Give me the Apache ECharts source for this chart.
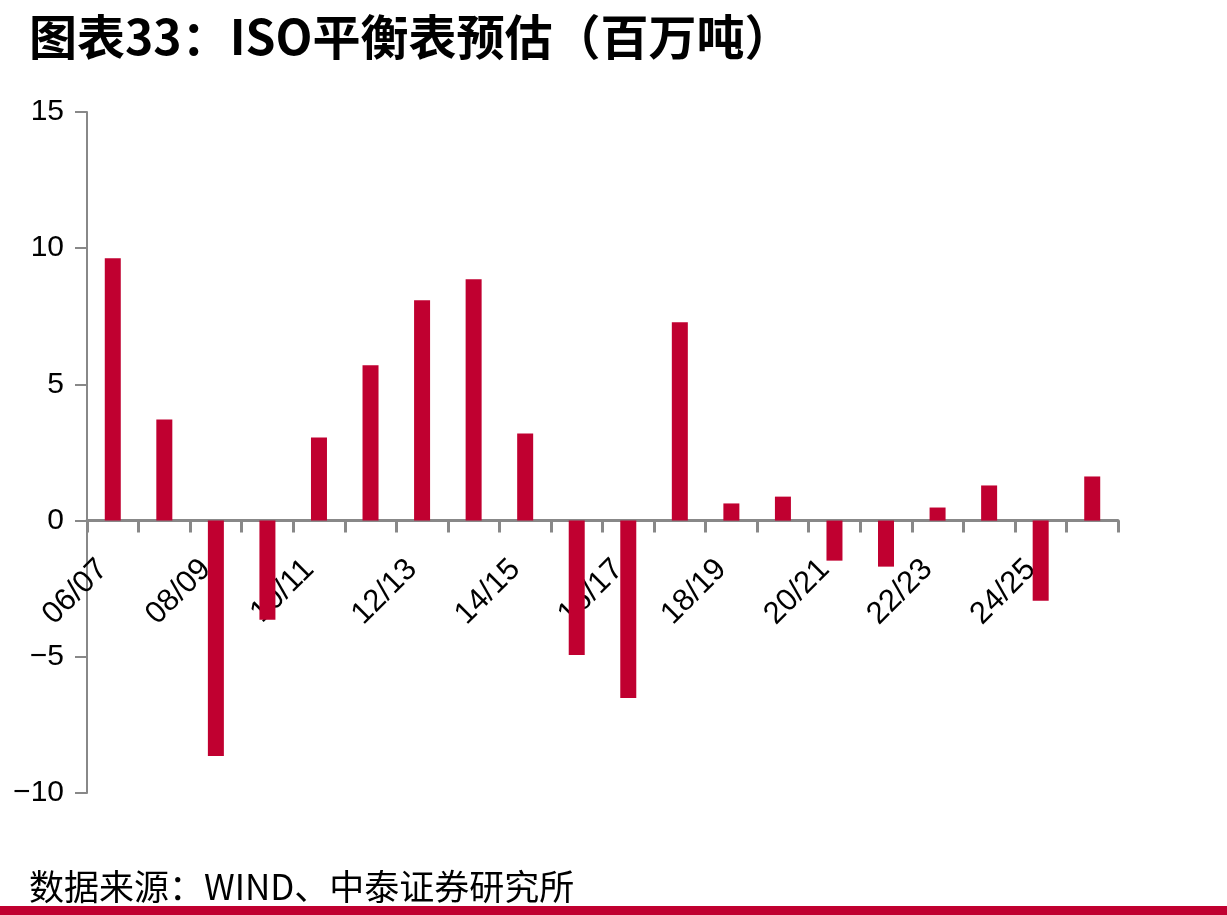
<!DOCTYPE html>
<html>
<head>
<meta charset="utf-8">
<script src="https://cdn.jsdelivr.net/npm/echarts@6/dist/echarts.min.js"></script>
<style>
  html, body { margin: 0; padding: 0; background: #fff; }
  #chart { width: 1227px; height: 915px; }
</style>
</head>
<body>
<div id="chart"></div>
<script>
// 年度（榨季）
const seasons = ['06/07', '07/08', '08/09', '09/10', '10/11', '11/12', '12/13', '13/14', '14/15', '15/16',
  '16/17', '17/18', '18/19', '19/20', '20/21', '21/22', '22/23', '23/24', '24/25', '25/26']
// ISO 平衡表 过剩/缺口（百万吨）
const balance = [9.63, 3.71, -8.64, -3.64, 3.05, 5.70, 8.09, 8.86, 3.20, -4.93,
  -6.51, 7.28, 0.63, 0.88, -1.47, -1.69, 0.48, 1.29, -2.94, 1.62]

const titleText = '图表33：ISO平衡表预估（百万吨）'
const sourceText = '数据来源：WIND、中泰证券研究所'

const yMin = -10
const yMax = 15

const chart = echarts.init(document.getElementById('chart'))

const axisGray = '#888888'
const barRed = '#C00030'

// 绘图区
const gridTop = 112
const gridBottom = 122
const plotH = 915 - gridTop - gridBottom
// 分类轴挪到 0 的位置（标签跟着走）
const zeroShift = plotH * (0 - yMin) / (yMax - yMin)

const option = {
  backgroundColor: '#fff',
  animation: false,
  title: [
    {
      text: titleText,
      left: 24,
      top: 8,
      textStyle: { fontFamily: 'Noto Sans CJK SC', fontWeight: 'bold', fontSize: 48, color: '#000' }
    },
    {
      text: sourceText,
      left: 24,
      top: 864,
      textStyle: { fontFamily: 'Noto Sans CJK SC', fontWeight: 'normal', fontSize: 35, color: '#000' }
    }
  ],
  graphic: [
    { type: 'rect', left: 0, top: 906, shape: { width: 1227, height: 9 }, style: { fill: barRed } }
  ],
  grid: { left: 87, right: 109, top: gridTop, bottom: gridBottom, containLabel: false },
  xAxis: {
    type: 'category',
    data: seasons,
    boundaryGap: true,
    offset: -zeroShift,
    axisLine: { onZero: false, lineStyle: { color: axisGray, width: 3 } },
    axisTick: { show: true, length: 12, interval: 0, lineStyle: { color: axisGray, width: 3 } },
    axisLabel: {
      interval: 1,
      rotate: 45,
      margin: 34,
      padding: [0, 14, 0, 0],
      fontFamily: 'Liberation Sans',
      fontSize: 31,
      color: '#000'
    },
    splitLine: { show: false }
  },
  yAxis: {
    type: 'value',
    min: yMin,
    max: yMax,
    interval: 5,
    axisLine: { show: true, lineStyle: { color: axisGray, width: 2 } },
    axisTick: { show: true, inside: false, length: 12, lineStyle: { color: axisGray, width: 2 } },
    axisLabel: {
      margin: 23,
      fontFamily: 'Liberation Sans',
      fontSize: 30,
      color: '#000',
      formatter: v => String(v).replace('-', '−')
    },
    splitLine: { show: false }
  },
  series: [
    {
      type: 'bar',
      data: balance,
      barWidth: 16,
      itemStyle: { color: barRed }
    }
  ]
}

chart.setOption(option)
</script>
</body>
</html>
